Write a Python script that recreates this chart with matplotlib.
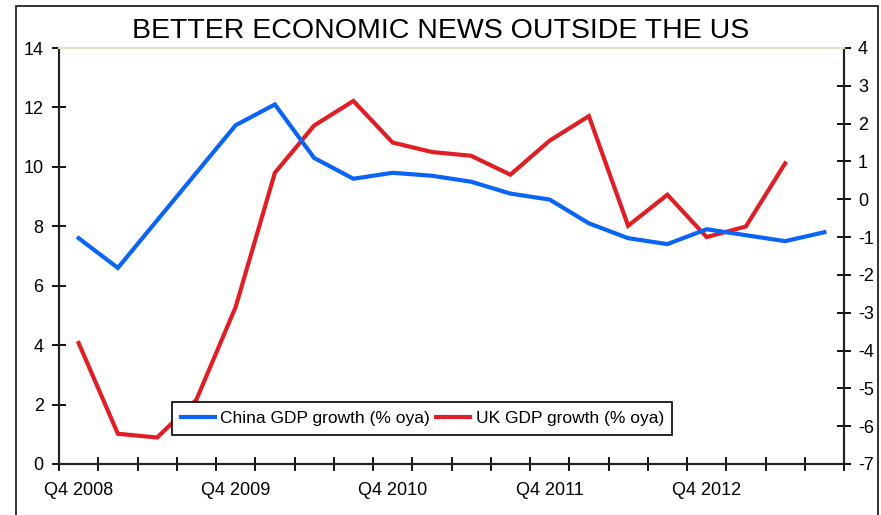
import numpy as np
import matplotlib
matplotlib.use("Agg")
import matplotlib.pyplot as plt
from matplotlib.patches import Rectangle

plt.rcParams['font.family'] = ['Liberation Sans', 'DejaVu Sans']
plt.rcParams['axes.unicode_minus'] = False

# Quarters Q4 2008 .. Q3 2013
quarters = ["Q4 2008", "Q1 2009", "Q2 2009", "Q3 2009",
            "Q4 2009", "Q1 2010", "Q2 2010", "Q3 2010",
            "Q4 2010", "Q1 2011", "Q2 2011", "Q3 2011",
            "Q4 2011", "Q1 2012", "Q2 2012", "Q3 2012",
            "Q4 2012", "Q1 2013", "Q2 2013", "Q3 2013"]
china_gdp = [7.6, 6.6, 8.2, 9.8, 11.4, 12.1, 10.3, 9.6, 9.8, 9.7,
             9.5, 9.1, 8.9, 8.1, 7.6, 7.4, 7.9, 7.7, 7.5, 7.8]
uk_gdp = [-3.8, -6.2, -6.3, -5.3, -2.85, 0.7, 1.95, 2.6, 1.5, 1.25,
          1.15, 0.65, 1.55, 2.2, -0.7, 0.12, -1.0, -0.72, 0.95]

left_ticks = [0, 2, 4, 6, 8, 10, 12, 14]
right_ticks = list(range(-7, 5))

blue = "#0A64F5"
red = "#E01E26"

W, H = 881, 515
fig = plt.figure(figsize=(W / 100, H / 100), dpi=100)
ax = fig.add_axes([59 / W, 1 - 464 / H, (844 - 59) / W, (464 - 48) / H])
ax2 = ax.twinx()

x = np.arange(len(quarters))
l1, = ax.plot(x, china_gdp, color=blue, lw=3, solid_joinstyle="miter",
              label="China GDP growth (% oya)")
l2, = ax2.plot(x[:len(uk_gdp)], uk_gdp, color=red, lw=3, solid_joinstyle="miter",
               label="UK GDP growth (% oya)")

ax.set_xlim(-0.5, len(quarters) - 0.5)
ax.set_ylim(0, 14)
ax2.set_ylim(-7, 4)
ax.set_yticks(left_ticks)
ax2.set_yticks(right_ticks)

# category boundary ticks, labels every 4th quarter at centres
ax.set_xticks(np.arange(-0.5, len(quarters)), minor=False)
ax.set_xticklabels([])
ax.set_xticks(x[::4], minor=True)
ax.set_xticklabels([quarters[i] for i in x[::4]], minor=True)
ax.tick_params(axis="x", which="minor", length=0, pad=13, labelsize=13)
ax.tick_params(axis="x", which="major", direction="inout", length=10, width=1.3)
ax.tick_params(axis="y", direction="inout", length=10, width=1.3, pad=6, labelsize=13)
ax2.tick_params(axis="y", direction="inout", length=10, width=1.3, pad=5, labelsize=13)

for a in (ax, ax2):
    for s in ("left", "right", "bottom"):
        a.spines[s].set_linewidth(1.5)
        a.spines[s].set_color("#222222")
    a.spines["top"].set_color("#E4DFC2")
    a.spines["top"].set_linewidth(1.5)

ax.set_zorder(ax2.get_zorder() + 1)
ax.patch.set_visible(False)

leg = ax.legend([l1, l2], [l1.get_label(), l2.get_label()], ncol=2,
                loc="upper left", bbox_to_anchor=(172 / W, 1 - 402 / H),
                bbox_transform=fig.transFigure, fontsize=12.5, frameon=True,
                fancybox=False, edgecolor="black", borderpad=0.5,
                handlelength=1.95, handletextpad=0.3, columnspacing=0.4,
                borderaxespad=0, framealpha=1)
leg.get_frame().set_linewidth(1.2)

fig.text(441 / W, 1 - 31 / H, "BETTER ECONOMIC NEWS OUTSIDE THE US",
         ha="center", va="center", fontsize=20.5)

# outer frame around the chart
fig.patches.append(Rectangle((16 / W, -0.05), (878 - 16) / W, 1.05 - 6 / H,
                             transform=fig.transFigure, fill=False,
                             edgecolor="#222222", lw=1.3))

fig.savefig("out.png", dpi=100)
